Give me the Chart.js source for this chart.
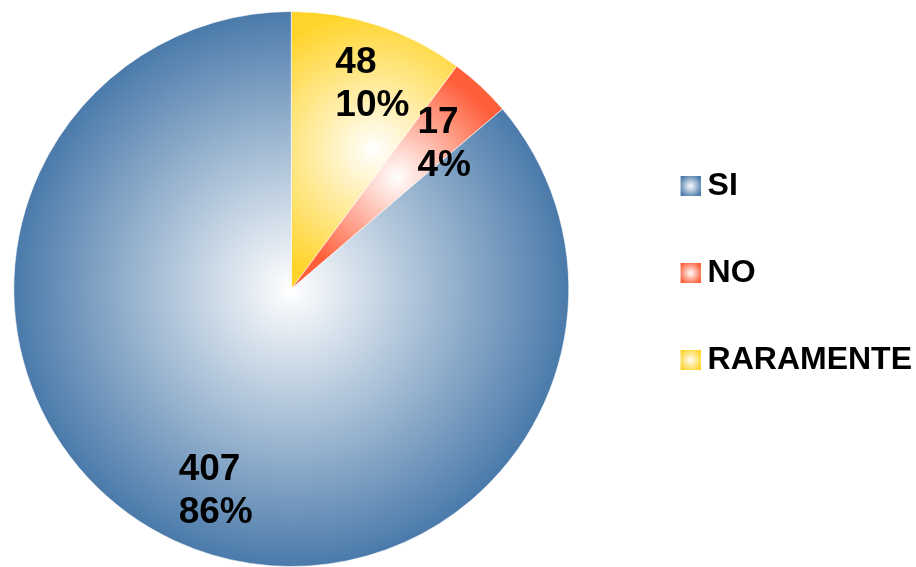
<!DOCTYPE html>
<html><head><meta charset="utf-8">
<script src="https://cdn.jsdelivr.net/npm/chart.js@4.4.0/dist/chart.umd.min.js"></script>
<style>html,body{margin:0;padding:0;background:#fff}#wrap{width:916px;height:567px;position:relative}</style>
</head><body><div id="wrap"><canvas id="c"></canvas></div>
<script>
// ---- data (legend order) ----
const categories = ['SI', 'NO', 'RARAMENTE'];
const counts = [407, 17, 48];
const edgeColors = ['#4A7AAA', '#FF5E3A', '#FFD42A'];

// slices run clockwise from 12 o'clock as RARAMENTE, NO, SI
const order = [2, 1, 0];
const chartLabels = order.map(i => categories[i]);
const chartValues = order.map(i => counts[i]);
const chartColors = order.map(i => edgeColors[i]);
const total = counts.reduce((a, b) => a + b, 0);
const pct = v => Math.round(v / total * 100) + '%';

// small label nudges (px) from the default spot at 0.77 R on the mid-angle, per category
const labelNudge = { SI: [14, 5], NO: [7, 8], RARAMENTE: [14, -5] };

const FONT = '"Liberation Sans", Arial, sans-serif';
Chart.defaults.font.family = FONT;

function sliceGradient(ctx) {
  const chart = ctx.chart, ca = chart.chartArea, i = ctx.dataIndex;
  const base = chartColors[i];
  if (!ca || i === undefined) return base;
  const cx = (ca.left + ca.right) / 2, cy = (ca.top + ca.bottom) / 2;
  const R = Math.min(ca.right - ca.left, ca.bottom - ca.top) / 2;
  const data = chart.data.datasets[0].data;
  const sum = data.reduce((a, b) => a + b, 0);
  let a0 = -Math.PI / 2;
  for (let k = 0; k < i; k++) a0 += 2 * Math.PI * data[k] / sum;
  const a1 = a0 + 2 * Math.PI * data[i] / sum;
  const xs = [cx], ys = [cy];
  const add = a => { xs.push(cx + R * Math.cos(a)); ys.push(cy + R * Math.sin(a)); };
  add(a0); add(a1);
  for (let q = -4; q < 8; q++) { const a = q * Math.PI / 2; if (a > a0 && a < a1) add(a); }
  const x0 = Math.min(...xs), x1 = Math.max(...xs), y0 = Math.min(...ys), y1 = Math.max(...ys);
  const gx = (x0 + x1) / 2, gy = (y0 + y1) / 2, gr = Math.max(x1 - x0, y1 - y0) / 2;
  const g = chart.ctx.createRadialGradient(gx, gy, 0, gx, gy, gr);
  g.addColorStop(0, '#ffffff');
  g.addColorStop(1, base);
  return g;
}

function legendIcon(color) {
  const cv = document.createElement('canvas');
  cv.width = 72; cv.height = 20;
  const g = cv.getContext('2d');
  const gr = g.createRadialGradient(62, 10, 0, 62, 10, 12);
  gr.addColorStop(0, '#ffffff');
  gr.addColorStop(1, color);
  g.fillStyle = gr;
  g.fillRect(52, 0, 20, 20);
  return cv;
}
const icons = edgeColors.map(legendIcon);

const valueLabels = {
  id: 'valueLabels',
  afterDatasetsDraw(chart) {
    const meta = chart.getDatasetMeta(0);
    const c = chart.ctx;
    c.save();
    c.font = 'bold 37px ' + FONT;
    c.fillStyle = '#000';
    c.textAlign = 'left';
    c.textBaseline = 'alphabetic';
    meta.data.forEach((arc, i) => {
      const p = arc.getProps(['x', 'y', 'startAngle', 'endAngle', 'outerRadius'], true);
      const mid = (p.startAngle + p.endAngle) / 2;
      const r = p.outerRadius * 0.77;
      const nudge = labelNudge[chartLabels[i]] || [0, 0];
      const bx = p.x + r * Math.cos(mid) + nudge[0];
      const by = p.y + r * Math.sin(mid) + nudge[1];
      const l1 = String(chartValues[i]), l2 = pct(chartValues[i]);
      const w = Math.max(c.measureText(l1).width, c.measureText(l2).width);
      const left = bx - w / 2;
      c.fillText(l1, left, by - 8);
      c.fillText(l2, left, by + 35);
    });
    c.restore();
  }
};

new Chart(document.getElementById('c'), {
  type: 'pie',
  data: {
    labels: chartLabels,
    datasets: [{
      data: chartValues,
      backgroundColor: sliceGradient,
      borderColor: 'rgba(255,255,255,0.6)',
      borderWidth: 1
    }]
  },
  options: {
    responsive: true,
    maintainAspectRatio: false,
    animation: false,
    layout: { padding: { top: 11, bottom: 0, left: 0, right: -6 } },
    plugins: {
      tooltip: { enabled: false },
      legend: {
        position: 'right',
        align: 'start',
        title: { display: true, text: '', font: { size: 10, lineHeight: 1 }, padding: { top: 94, bottom: 0 } },
        labels: {
          usePointStyle: true,
          pointStyleWidth: 54,
          padding: 55,
          color: '#000',
          font: { size: 32, weight: 'bold', family: FONT },
          generateLabels: () => categories.map((t, i) => ({
            text: t, pointStyle: icons[i], fillStyle: edgeColors[i], fontColor: '#000',
            strokeStyle: 'transparent', lineWidth: 0, hidden: false, index: i, datasetIndex: 0
          }))
        }
      }
    }
  },
  plugins: [valueLabels]
});
</script></body></html>
